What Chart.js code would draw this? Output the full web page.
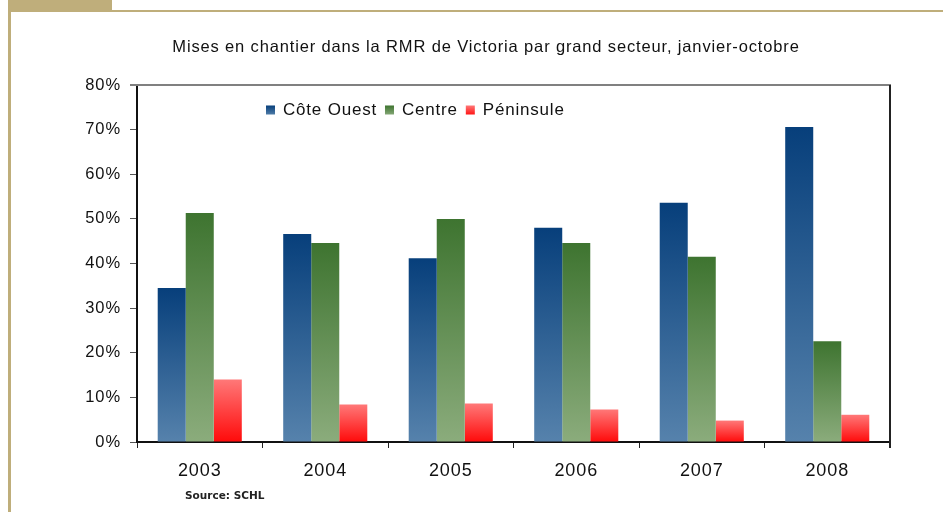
<!DOCTYPE html>
<html><head><meta charset="utf-8">
<script src="https://cdn.jsdelivr.net/npm/chart.js@4"></script>
<style>html,body{margin:0;padding:0;background:#fff}#wrap{width:943px;height:512px;position:relative}</style>
</head><body><div id="wrap"><canvas id="c" width="943" height="512"></canvas></div>
<script>
const categories = ['2003','2004','2005','2006','2007','2008'];
const coteOuest = [34.5, 46.6, 41.2, 48.0, 53.6, 70.6];
const centre = [51.3, 44.6, 50.0, 44.6, 41.5, 22.6];
const peninsule = [14.0, 8.4, 8.6, 7.3, 4.8, 6.1];
const seriesNames = ['Côte Ouest', 'Centre', 'Péninsule'];
const titleText = 'Mises en chantier dans la RMR de Victoria par grand secteur, janvier-octobre';
const sourceText = 'Source: SCHL';

const gradStops = [
  ['#073f7b', '#5682ac'],
  ['#3e7430', '#8bac7c'],
  ['#ff7878', '#ff0a0a']
];
function barGrad(i) {
  return function(ctx) {
    const chart = ctx.chart;
    const y = chart.scales.y;
    if (!y || ctx.type !== 'data') return gradStops[i][1];
    const v = ctx.raw;
    const top = y.getPixelForValue(v), bot = y.getPixelForValue(0);
    if (!isFinite(top) || !isFinite(bot) || top === bot) return gradStops[i][1];
    const g = chart.ctx.createLinearGradient(0, top, 0, bot);
    g.addColorStop(0, gradStops[i][0]);
    g.addColorStop(1, gradStops[i][1]);
    return g;
  };
}
const FONT = '"Liberation Sans", Arial, sans-serif';

const decor = {
  id: 'decor',
  beforeDraw(chart) {
    const c = chart.ctx;
    c.save();
    c.fillStyle = '#fff'; c.fillRect(0,0,943,512);
    c.fillStyle = '#bfae7b';
    c.fillRect(8, 0, 104, 12);
    c.fillRect(8, 10, 935, 2);
    c.fillRect(8, 10, 3, 502);
    c.fillStyle = '#111';
    c.font = '16.5px ' + FONT;
    c.letterSpacing = '0.85px';
    c.textAlign = 'center'; c.textBaseline = 'middle';
    c.fillText(titleText, 486, 47);
    c.letterSpacing = '0px';
    c.font = 'bold 10.5px "DejaVu Sans", sans-serif';
    c.textAlign = 'left';
    c.fillStyle = '#222';
    c.fillText(sourceText, 185, 496);
    c.restore();
    c.letterSpacing = '0.9px';
  },
  afterDraw(chart) {
    const a = chart.chartArea, c = chart.ctx;
    c.save();
    c.strokeStyle = '#808080'; c.lineWidth = 2;
    c.beginPath(); c.moveTo(130, a.top); c.lineTo(a.right + 1, a.top); c.stroke();
    c.strokeStyle = '#222'; c.lineWidth = 2;
    c.beginPath(); c.moveTo(a.right, a.top); c.lineTo(a.right, a.bottom + 6); c.stroke();
    // legend
    c.font = '17px ' + FONT;
    c.letterSpacing = '0.8px';
    c.textBaseline = 'middle'; c.textAlign = 'left';
    let x = 266; const yy = 110.5;
    seriesNames.forEach((n, i) => {
      const g = c.createLinearGradient(0, yy - 5, 0, yy + 5);
      g.addColorStop(0, gradStops[i][0]); g.addColorStop(1, gradStops[i][1]);
      c.fillStyle = g;
      c.fillRect(x, yy - 5, 9, 9);
      c.fillStyle = '#111';
      c.fillText(n, x + 17, yy);
      x += 17 + c.measureText(n).width + 8;
    });
    c.restore();
    c.letterSpacing = '0px';
  }
};

new Chart(document.getElementById('c'), {
  type: 'bar',
  data: {
    labels: categories,
    datasets: [
      { label: seriesNames[0], data: coteOuest, backgroundColor: barGrad(0) },
      { label: seriesNames[1], data: centre, backgroundColor: barGrad(1) },
      { label: seriesNames[2], data: peninsule, backgroundColor: barGrad(2) }
    ]
  },
  options: {
    responsive: false, animation: false,
    devicePixelRatio: 1,
    layout: { padding: { top: 85, right: 53, left: 0, bottom: 0 } },
    datasets: { bar: { barPercentage: 1, categoryPercentage: 0.67 } },
    plugins: { legend: { display: false }, title: { display: false }, tooltip: { enabled: false } },
    scales: {
      x: {
        grid: { display: true, drawOnChartArea: false, drawTicks: true, tickLength: 6, color: '#222', offset: true },
        border: { display: true, color: '#111', width: 2 },
        ticks: { font: { family: FONT, size: 18 }, color: '#111', padding: 12 },
        afterFit(s) { s.height = 70; }
      },
      y: {
        min: 0, max: 80,
        grid: { display: true, drawOnChartArea: false, drawTicks: true, tickLength: 7, color: '#555' },
        border: { display: true, color: '#111', width: 2 },
        ticks: { stepSize: 10, font: { family: FONT, size: 16.5 }, color: '#111', padding: 9, callback: v => v + '%' },
        afterFit(s) { s.width = 137; }
      }
    }
  },
  plugins: [decor]
});
</script></body></html>
